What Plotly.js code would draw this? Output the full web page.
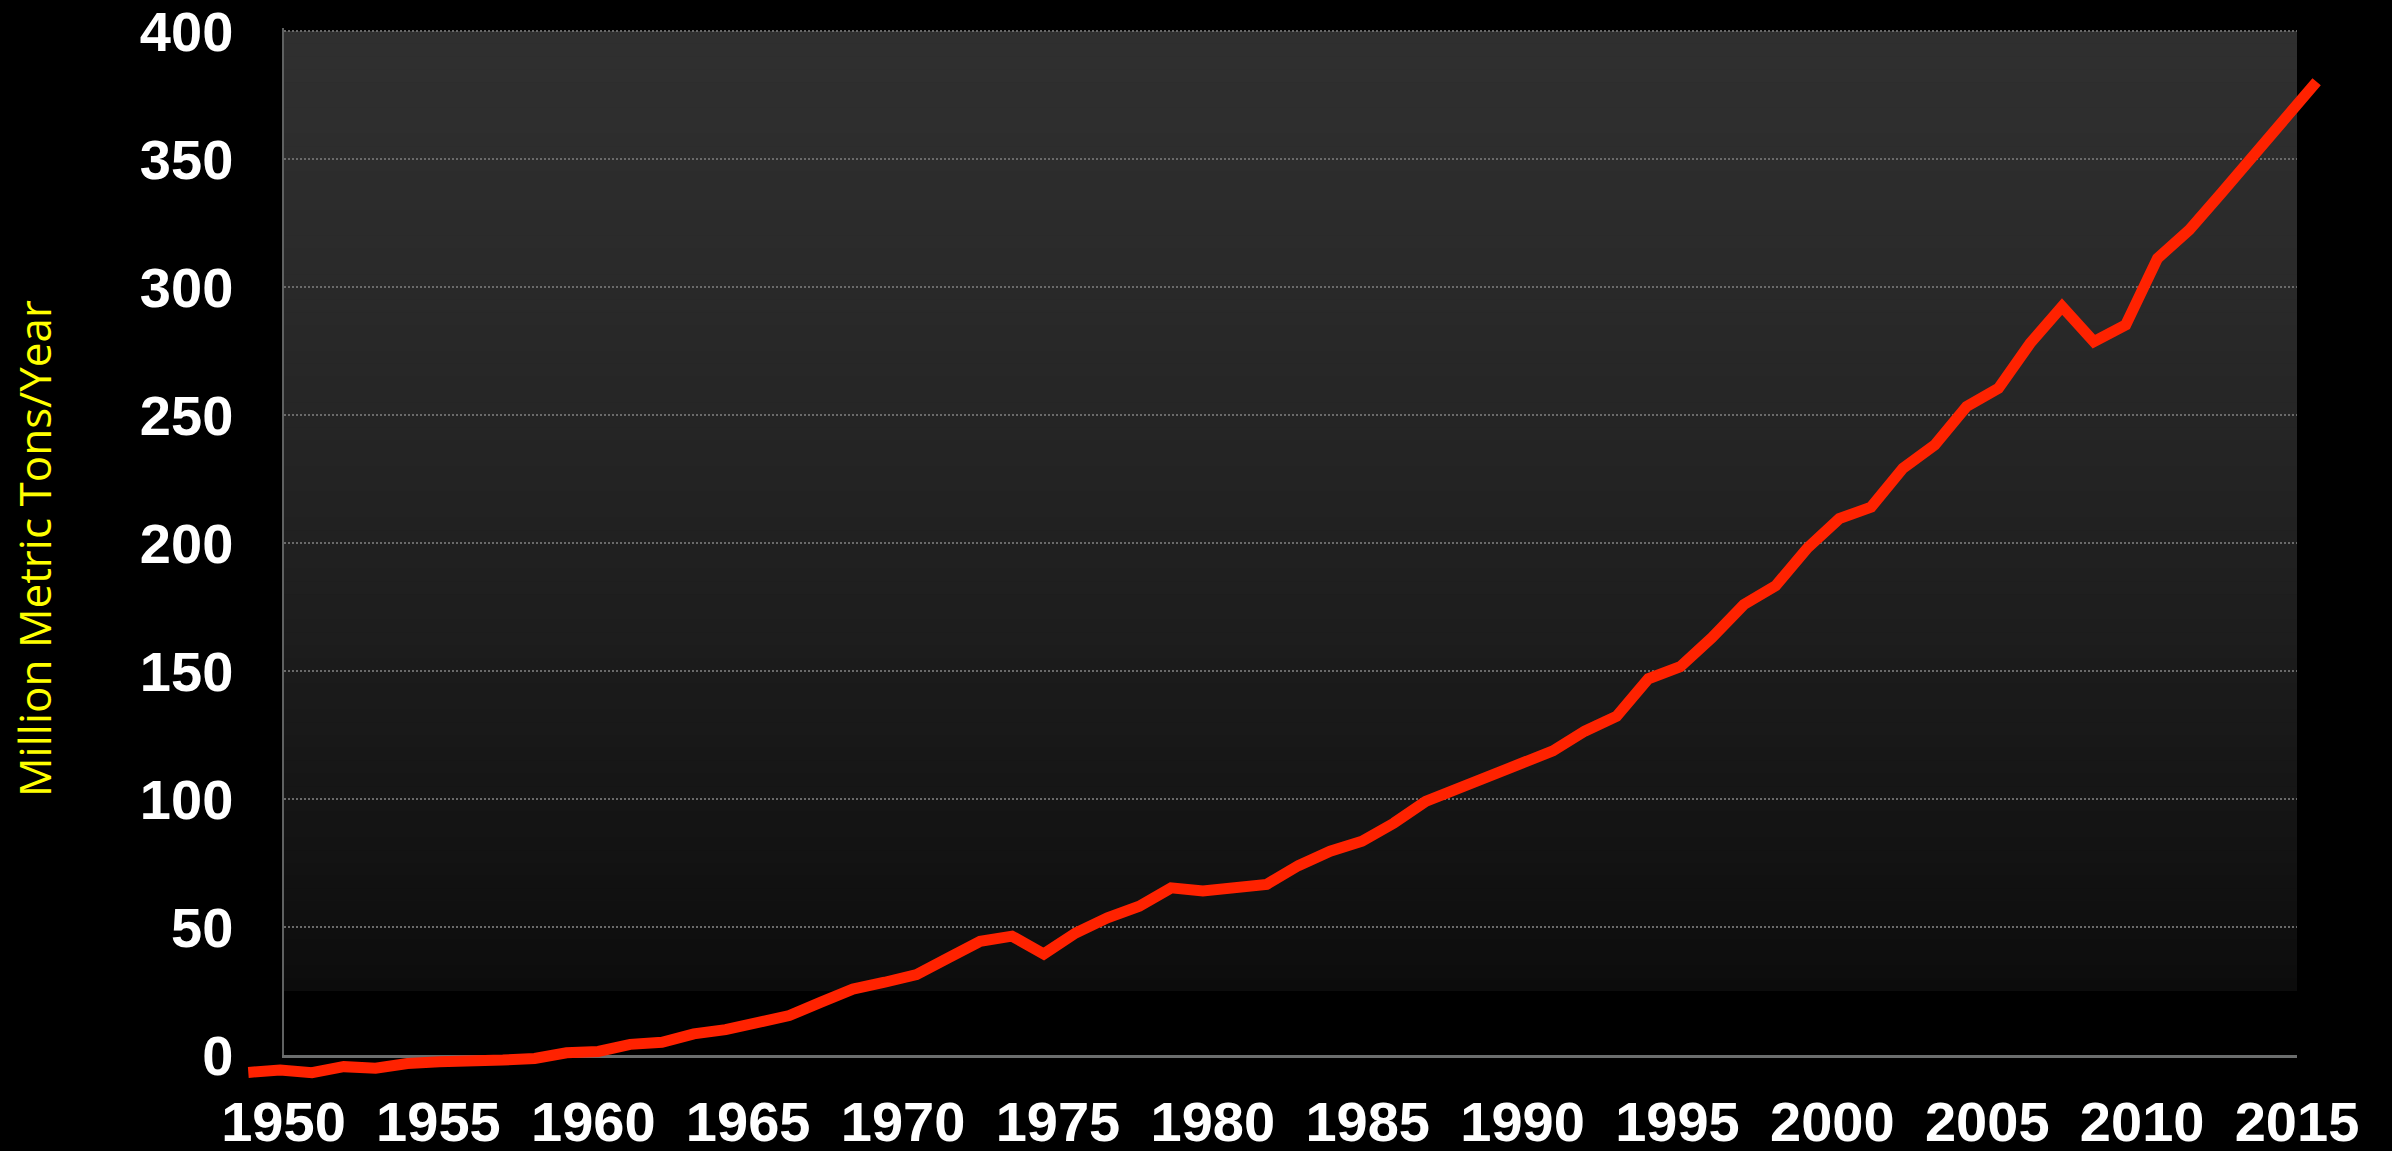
<!DOCTYPE html>
<html>
<head>
<meta charset="utf-8">
<script src="https://cdn.plot.ly/plotly-3.0.1.min.js"></script>
<style>
html, body { margin: 0; padding: 0; background: #000; overflow: hidden; }
#chart { width: 2392px; height: 1151px; }
</style>
</head>
<body>
<div id="chart"></div>
<script>
// ---- data ----
const years = [1950, 1951, 1952, 1953, 1954, 1955, 1956, 1957, 1958, 1959,
               1960, 1961, 1962, 1963, 1964, 1965, 1966, 1967, 1968, 1969,
               1970, 1971, 1972, 1973, 1974, 1975, 1976, 1977, 1978, 1979,
               1980, 1981, 1982, 1983, 1984, 1985, 1986, 1987, 1988, 1989,
               1990, 1991, 1992, 1993, 1994, 1995, 1996, 1997, 1998, 1999,
               2000, 2001, 2002, 2003, 2004, 2005, 2006, 2007, 2008, 2009,
               2010, 2011, 2012, 2013, 2014, 2015];
const production = [2.0, 2.9, 1.9, 4.2, 3.6, 5.4, 6.1, 6.1, 6.7, 7.3,
                    9.5, 10.0, 12.7, 13.5, 16.7, 18.3, 21.1, 23.7, 28.8, 33.8,
                    36.4, 39.3, 45.7, 52.0, 54.0, 47.2, 55.2, 61.0, 65.4, 72.4,
                    71.2, 72.8, 73.7, 80.9, 86.4, 90.2, 97.1, 105.4, 110.4, 114.8,
                    120.8, 124.7, 132.2, 137.9, 152.2, 156.8, 167.9, 180.5, 187.7, 202.1,
                    213.3, 217.7, 232.5, 241.4, 256.1, 263.0, 280.2, 294.2, 280.8, 287.2,
                    312.6, 323.5, 337.4, 351.4, 366.0, 380.0];
const xTickVals = [1950, 1955, 1960, 1965, 1970, 1975, 1980, 1985, 1990, 1995, 2000, 2005, 2010, 2015];
const yTickVals = [0, 50, 100, 150, 200, 250, 300, 350, 400];
const yTitle = 'Million Metric Tons/Year';

// ---- geometry helpers (pixel -> paper) ----
const W = 2392, H = 1151;
const px = x => x / W;
const py = y => 1 - y / H;

// ---- background gradient bands of the plot frame ----
const shapes = [];
for (let top = 400; top > 25; top -= 5) {
  const f = (400 - (top - 2.5)) / 375;
  const c = Math.round(47 - 35 * Math.pow(f, 1.4));
  shapes.push({
    type: 'rect', layer: 'below', xref: 'x', yref: 'y',
    x0: 1950, x1: 2015, y0: 25, y1: top,
    fillcolor: `rgb(${c},${c},${c})`, line: { width: 0 }
  });
}

const tickFont = { family: '"Liberation Sans", Arial, sans-serif', size: 56, color: '#ffffff', weight: 'bold' };

const trace = {
  type: 'scatter', mode: 'lines',
  x: years, y: production,
  xaxis: 'x2', yaxis: 'y2',
  line: { color: '#ff2200', width: 11 },
  hoverinfo: 'skip', showlegend: false
};

const layout = {
  width: W, height: H,
  margin: { l: 0, r: 0, t: 0, b: 0, pad: 0 },
  paper_bgcolor: '#000000',
  plot_bgcolor: 'rgba(0,0,0,0)',
  showlegend: false,
  xaxis: {
    domain: [px(283.5), px(2297)], range: [1950, 2015], anchor: 'y',
    tickmode: 'array', tickvals: xTickVals, ticktext: xTickVals.map(String),
    showgrid: false, zeroline: false,
    showline: true, linecolor: '#6b6d6d', linewidth: 3,
    ticks: '', ticklabelstandoff: 16, ticklabeloverflow: 'allow',
    tickfont: tickFont, fixedrange: true
  },
  yaxis: {
    domain: [py(1055), py(28.44)], range: [0, 401], anchor: 'x',
    tickmode: 'array', tickvals: yTickVals, ticktext: yTickVals.map(String),
    showgrid: true, gridcolor: '#6a6a6a', gridwidth: 2, griddash: '2px,2px',
    zeroline: false,
    showline: true, linecolor: '#5f6161', linewidth: 2,
    ticks: '', ticklabelstandoff: 37, ticklabeloverflow: 'allow',
    tickfont: tickFont, fixedrange: true
  },
  xaxis2: { domain: [px(228), px(2338)], range: [1949.362, 2015.672], anchor: 'y2', visible: false, fixedrange: true },
  yaxis2: { domain: [py(1095), py(10)], range: [-6.6175, 407.358], anchor: 'x2', visible: false, fixedrange: true },
  shapes: shapes,
  annotations: [{
    text: yTitle, xref: 'paper', yref: 'paper', x: px(34), y: py(549),
    xanchor: 'center', yanchor: 'middle', textangle: -90, showarrow: false,
    font: { family: '"Open Sans", sans-serif', size: 44, color: '#ffff00' }
  }]
};

Plotly.newPlot('chart', [trace], layout, { displayModeBar: false, staticPlot: true });
</script>
</body>
</html>
